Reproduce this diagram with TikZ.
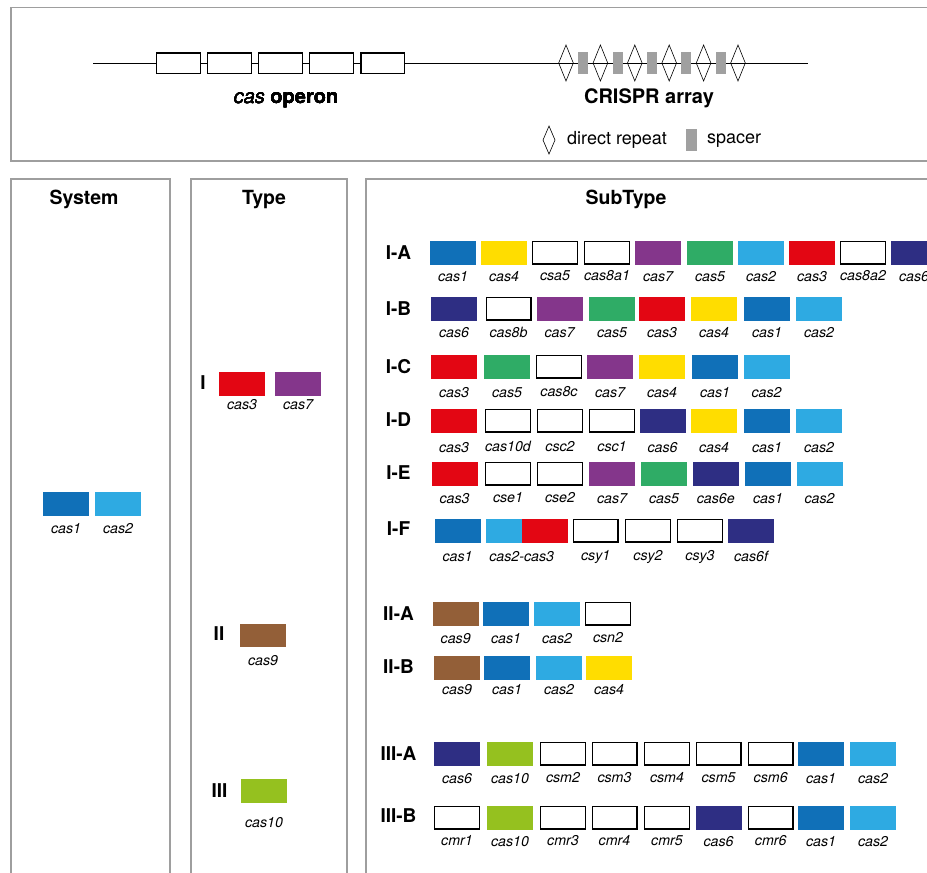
\documentclass[tikz,border=0pt]{standalone}
\usepackage{fontspec}
\setmainfont{TeX Gyre Heros}
\definecolor{panelgray}{HTML}{9E9E9E}
\definecolor{spgray}{HTML}{A0A0A0}
\definecolor{c1}{HTML}{1070B8}
\definecolor{c2}{HTML}{2EAAE2}
\definecolor{c3}{HTML}{E30613}
\definecolor{c4}{HTML}{FFDD00}
\definecolor{c5}{HTML}{2FAC66}
\definecolor{c6}{HTML}{2E2E83}
\definecolor{c7}{HTML}{84368B}
\definecolor{c9}{HTML}{935F38}
\definecolor{c10}{HTML}{95C11F}
\tikzset{
  panel/.style={draw=panelgray, line width=1.8pt},
  genebase/.style={rectangle, minimum width=46pt, minimum height=23.5pt, inner sep=0pt, outer sep=0pt},
  filled/.style={genebase, fill=#1, draw=none},
  empty/.style={genebase, fill=white, draw=black, line width=1.4pt, minimum width=44.6pt, minimum height=22.1pt},
  glab/.style={font=\fontsize{14.2}{16}\selectfont\itshape, anchor=base, inner sep=0pt},
  rowlab/.style={font=\fontsize{19}{22}\selectfont\bfseries, inner sep=0pt},
  title/.style={font=\fontsize{19.5}{22}\selectfont\bfseries, anchor=base, inner sep=0pt},
  toplab/.style={font=\fontsize{20}{23}\selectfont, anchor=base, inner sep=0pt},
  leglab/.style={font=\fontsize{18}{21}\selectfont, anchor=base west, inner sep=0pt},
  opbox/.style={rectangle, draw=black, fill=white, line width=1.3pt, minimum width=43.7pt, minimum height=20.7pt, inner sep=0pt},
  spacerbox/.style={rectangle, fill=spgray, minimum width=10pt, minimum height=22pt, inner sep=0pt},
  dna/.style={line width=1.5pt, black},
  rep/.style={line width=0.6pt, black},
}
% #1 label gap, #2 name, #3 left x, #4 top y, #5 style, #6 label
\newcommand\gn[6][17]{%
  \node[#5] (#2) at (#3+23,#4+11.75) {};
  \node[glab] (#2l) at ([yshift=-#1pt]#2.south) {#6};}
\newcommand\repeatmark[4]{% cx, cy, half width, half height
  \draw[rep] (#1,#2-#4) -- (#1+#3,#2) -- (#1,#2+#4) -- (#1-#3,#2) -- cycle;}
\begin{document}
\begin{tikzpicture}[x=1pt,y=-1pt]
\useasboundingbox (0,0) rectangle (927,873);
\clip (0,0) rectangle (927,873);
\fill[white] (0,0) rectangle (927,873);
% ---------- top panel ----------
\draw[panel] (11,7.5) rectangle (960,161);
\coordinate (dnaL) at (93,63.5);
\coordinate (dnaR) at (808,63.5);
\draw[dna] (dnaL) -- (dnaR);
\foreach \i/\cx in {1/178.3,2/229.5,3/280.6,4/331.6,5/382.8}
  \node[opbox] (op\i) at (\cx,63.3) {};
\foreach \cx in {583.2,617.6,652,686.4,720.8}
  \node[spacerbox] at (\cx,63.3) {};
\foreach \cx in {566,600.4,634.8,669.2,703.6,738}
  \repeatmark{\cx}{63}{7.3}{18}
\node[toplab] (casop) at (286,103) {\textit{cas} \textbf{operon}};
\node[toplab] (crispr) at (649,103) {\textbf{CRISPR array}};
\repeatmark{549}{140}{6}{14}
\node[leglab] (legdr) at (567,144.5) {direct repeat};
\node[spacerbox, minimum width=11pt] (legsp) at (691.5,140) {};
\node[leglab] (legsptxt) at (707,143) {spacer};
% ---------- lower panels ----------
\draw[panel] (11.3,179) rectangle (170,900);
\draw[panel] (190.7,179) rectangle (346.7,900);
\draw[panel] (366,179) rectangle (960,900);
\node[title] (tsys) at (84,204) {System};
\node[title] (ttype) at (264,204) {Type};
\node[title] (tsub) at (626,204) {SubType};
% System
\gn[17.8]{s1}{43}{492}{filled=c1}{cas1}
\gn[17.8]{s2}{95}{492}{filled=c2}{cas2}
% Type
\node[rowlab] (tI) at (203,383) {I};
\gn[13.8]{t1}{219}{372}{filled=c3}{cas3}
\gn[13.8]{t2}{275}{372}{filled=c7}{cas7}
\node[rowlab] (tII) at (219,634) {II};
\gn[18]{t3}{240}{623.5}{filled=c9}{cas9}
\node[rowlab] (tIII) at (219.5,790.5) {III};
\gn[24.5]{t4}{241}{779}{filled=c10}{cas10}
% SubType rows
\node[rowlab] (rIA) at (398.5,253) {I-A};
\gn[16.8]{ia1}{430}{241}{filled=c1}{cas1}
\gn[16.8]{ia2}{481}{241}{filled=c4}{cas4}
\gn[16.8]{ia3}{532}{241}{empty}{csa5}
\gn[16.8]{ia4}{584}{241}{empty}{cas8a1}
\gn[16.8]{ia5}{635}{241}{filled=c7}{cas7}
\gn[16.8]{ia6}{687}{241}{filled=c5}{cas5}
\gn[16.8]{ia7}{738}{241}{filled=c2}{cas2}
\gn[16.8]{ia8}{789}{241}{filled=c3}{cas3}
\gn[16.8]{ia9}{840}{241}{empty}{cas8a2}
\gn[16.8]{ia10}{891}{241}{filled=c6}{cas6}
%
\node[rowlab] (rIB) at (398.5,309) {I-B};
\gn[17.3]{ib1}{431}{297}{filled=c6}{cas6}
\gn[17.3]{ib2}{485.5}{297}{empty}{cas8b}
\gn[17.3]{ib3}{536.5}{297}{filled=c7}{cas7}
\gn[17.3]{ib4}{589}{297}{filled=c5}{cas5}
\gn[17.3]{ib5}{639}{297}{filled=c3}{cas3}
\gn[17.3]{ib6}{691}{297}{filled=c4}{cas4}
\gn[17.3]{ib7}{744}{297}{filled=c1}{cas1}
\gn[17.3]{ib8}{796}{297}{filled=c2}{cas2}
%
\node[rowlab] (rIC) at (398.5,367) {I-C};
\gn[18.5]{ic1}{431}{355}{filled=c3}{cas3}
\gn[18.5]{ic2}{484}{355}{filled=c5}{cas5}
\gn[18.5]{ic3}{536}{355}{empty}{cas8c}
\gn[18.5]{ic4}{587}{355}{filled=c7}{cas7}
\gn[18.5]{ic5}{639}{355}{filled=c4}{cas4}
\gn[18.5]{ic6}{692}{355}{filled=c1}{cas1}
\gn[18.5]{ic7}{743.5}{355}{filled=c2}{cas2}
%
\node[rowlab] (rID) at (398.5,420) {I-D};
\gn[19.5]{id1}{431}{409}{filled=c3}{cas3}
\gn[19.5]{id2}{485}{409}{empty}{cas10d}
\gn[19.5]{id3}{537}{409}{empty}{csc2}
\gn[19.5]{id4}{589}{409}{empty}{csc1}
\gn[19.5]{id5}{639.5}{409}{filled=c6}{cas6}
\gn[19.5]{id6}{691}{409}{filled=c4}{cas4}
\gn[19.5]{id7}{744}{409}{filled=c1}{cas1}
\gn[19.5]{id8}{796}{409}{filled=c2}{cas2}
%
\node[rowlab] (rIE) at (398.5,473) {I-E};
\gn[17.8]{ie1}{431.5}{462}{filled=c3}{cas3}
\gn[17.8]{ie2}{485}{462}{empty}{cse1}
\gn[17.8]{ie3}{537}{462}{empty}{cse2}
\gn[17.8]{ie4}{589}{462}{filled=c7}{cas7}
\gn[17.8]{ie5}{641}{462}{filled=c5}{cas5}
\gn[17.8]{ie6}{692.7}{462}{filled=c6}{cas6e}
\gn[17.8]{ie7}{745}{462}{filled=c1}{cas1}
\gn[17.8]{ie8}{796.5}{462}{filled=c2}{cas2}
%
\node[rowlab] (rIF) at (398.5,529) {I-F};
\gn[18.5]{if1}{434.5}{519}{filled=c1}{cas1}
\node[genebase, fill=c2, minimum width=35.7pt] (if2a) at (503.85,530.75) {};
\node[genebase, fill=c3, minimum width=46.6pt] (if2b) at (545,530.75) {};
\node[glab] (if2l) at ([yshift=-18.5pt]if2a.south east) {cas2-cas3};
\gn[18.5]{if3}{572.7}{519}{empty}{csy1}
\gn[18.5]{if4}{625}{519}{empty}{csy2}
\gn[18.5]{if5}{677}{519}{empty}{csy3}
\gn[18.5]{if6}{728}{519}{filled=c6}{cas6f}
%
\node[rowlab] (rIIA) at (398.5,614) {II-A};
\gn[17.8]{iia1}{432.7}{602}{filled=c9}{cas9}
\gn[17.8]{iia2}{483}{602}{filled=c1}{cas1}
\gn[17.8]{iia3}{534}{602}{filled=c2}{cas2}
\gn[17.8]{iia4}{585}{602}{empty}{csn2}
%
\node[rowlab] (rIIB) at (398.5,667) {II-B};
\gn[14.8]{iib1}{434}{656}{filled=c9}{cas9}
\gn[14.8]{iib2}{484}{656}{filled=c1}{cas1}
\gn[14.8]{iib3}{536}{656}{filled=c2}{cas2}
\gn[14.8]{iib4}{586}{656}{filled=c4}{cas4}
%
\node[rowlab] (rIIIA) at (398.5,754) {III-A};
\gn[17.8]{iiia1}{434}{742}{filled=c6}{cas6}
\gn[17.8]{iiia2}{487}{742}{filled=c10}{cas10}
\gn[17.8]{iiia3}{540}{742}{empty}{csm2}
\gn[17.8]{iiia4}{591.5}{742}{empty}{csm3}
\gn[17.8]{iiia5}{644}{742}{empty}{csm4}
\gn[17.8]{iiia6}{695.6}{742}{empty}{csm5}
\gn[17.8]{iiia7}{747.7}{742}{empty}{csm6}
\gn[17.8]{iiia8}{798}{742}{filled=c1}{cas1}
\gn[17.8]{iiia9}{850}{742}{filled=c2}{cas2}
%
\node[rowlab] (rIIIB) at (398.5,816) {III-B};
\gn[16.8]{iiib1}{434}{806}{empty}{cmr1}
\gn[16.8]{iiib2}{487}{806}{filled=c10}{cas10}
\gn[16.8]{iiib3}{540}{806}{empty}{cmr3}
\gn[16.8]{iiib4}{591.5}{806}{empty}{cmr4}
\gn[16.8]{iiib5}{644}{806}{empty}{cmr5}
\gn[16.8]{iiib6}{695.6}{806}{filled=c6}{cas6}
\gn[16.8]{iiib7}{747.7}{806}{empty}{cmr6}
\gn[16.8]{iiib8}{798}{806}{filled=c1}{cas1}
\gn[16.8]{iiib9}{850}{806}{filled=c2}{cas2}
\end{tikzpicture}
\end{document}
